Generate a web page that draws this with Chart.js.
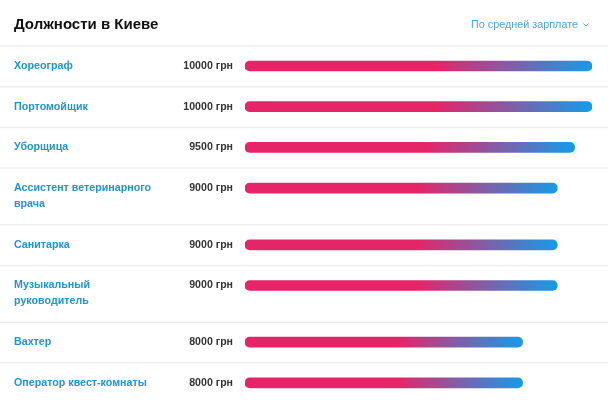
<!DOCTYPE html>
<html>
<head>
<meta charset="utf-8">
<script src="https://cdn.jsdelivr.net/npm/chart.js@4"></script>
<style>
  html, body { margin: 0; padding: 0; background: #fff; }
  #wrap { position: relative; width: 608px; height: 400px; }
</style>
</head>
<body>
<div id="wrap"><canvas id="salaryChart"></canvas></div>
<script>
// job titles, one entry per row (inner arrays = wrapped lines)
const jobs = [
    ['Хореограф'],
    ['Портомойщик'],
    ['Уборщица'],
    ['Ассистент ветеринарного', 'врача'],
    ['Санитарка'],
    ['Музыкальный', 'руководитель'],
    ['Вахтер'],
    ['Оператор квест-комнаты']
];
const salaries = [10000, 10000, 9500, 9000, 9000, 9000, 8000, 8000];
const currency = 'грн';
const axisMax = 10000;
const chartTitle = 'Должности в Киеве';
const sortLabel = 'По средней зарплате';

// row layout (px)
const headerHeight = 46;
const lineHeight = 16;
const rowPad = 24.7;
const firstLineOffset = 20;

const rowTops = [];
let acc = 0;
for (const lines of jobs) {
    rowTops.push(acc);
    acc += rowPad + lineHeight * lines.length;
}
const rowCenters = rowTops.map(t => t + firstLineOffset);

const ctx = document.getElementById('salaryChart');

function barGradient(context) {
    const chart = context.chart;
    const area = chart.chartArea;
    if (!area || context.parsed === undefined) return '#e52568';
    const xs = chart.scales.x;
    const x0 = xs.getPixelForValue(0);
    const x1 = xs.getPixelForValue(context.parsed.x);
    const g = chart.ctx.createLinearGradient(x0, 0, x1, 0);
    g.addColorStop(0, '#e52568');
    g.addColorStop(0.55, '#e52568');
    g.addColorStop(1, '#149ce8');
    return g;
}

const textPlugin = {
    id: 'rowText',
    afterDraw(chart) {
        const c = chart.ctx;
        const ys = chart.scales.y;
        c.save();

        // header
        c.fillStyle = '#111';
        c.font = 'bold 15px "Liberation Sans", Arial, sans-serif';
        c.textBaseline = 'middle';
        c.textAlign = 'left';
        c.fillText(chartTitle, 14, 25);

        c.fillStyle = '#4aa3e6';
        c.font = '10.8px "Liberation Sans", Arial, sans-serif';
        c.textAlign = 'right';
        c.fillText(sortLabel, 578, 25);
        // chevron
        c.strokeStyle = '#4aa3e6';
        c.lineWidth = 1;
        c.beginPath();
        c.moveTo(583.5, 23.5);
        c.lineTo(586, 26);
        c.lineTo(588.5, 23.5);
        c.stroke();

        // separators
        c.strokeStyle = '#efefef';
        c.lineWidth = 1.5;
        for (const t of rowTops) {
            const y = ys.getPixelForValue(t);
            c.beginPath();
            c.moveTo(0, y);
            c.lineTo(608, y);
            c.stroke();
        }

        // labels and values
        for (let i = 0; i < jobs.length; i++) {
            const yc = ys.getPixelForValue(rowCenters[i]);
            c.fillStyle = '#1f93dc';
            c.font = 'bold 10.7px "Liberation Sans", Arial, sans-serif';
            c.textAlign = 'left';
            jobs[i].forEach((line, k) => c.fillText(line, 14, yc + k * lineHeight));

            c.fillStyle = '#333';
            c.font = 'bold 10.6px "Liberation Sans", Arial, sans-serif';
            c.textAlign = 'right';
            c.fillText(salaries[i] + ' ' + currency, 233, yc);
        }
        c.restore();
    }
};

new Chart(ctx, {
    type: 'bar',
    data: {
        datasets: [{
            data: salaries.map((v, i) => ({ x: v, y: rowCenters[i] })),
            backgroundColor: barGradient,
            borderRadius: 5,
            borderSkipped: false,
            barThickness: 10
        }]
    },
    options: {
        indexAxis: 'y',
        responsive: true,
        maintainAspectRatio: false,
        animation: false,
        layout: { padding: { top: headerHeight, left: 245, right: 16, bottom: 0 } },
        plugins: {
            legend: { display: false },
            tooltip: { enabled: false }
        },
        scales: {
            x: { type: 'linear', min: 0, max: axisMax, display: false, offset: false },
            y: {
                type: 'linear', min: 0, max: 400 - headerHeight, reverse: true,
                display: false, offset: false, grid: { offset: false }
            }
        }
    },
    plugins: [textPlugin]
});
</script>
</body>
</html>
